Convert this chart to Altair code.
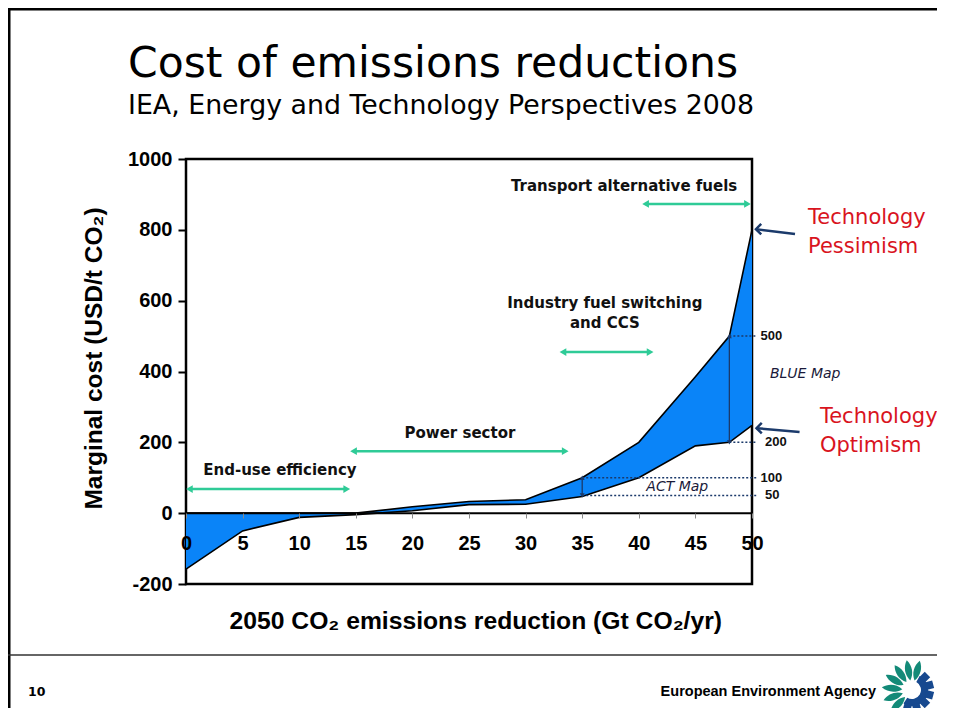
import math
import altair as alt
import pandas as pd

# ---------------- data ----------------
reduction = [0, 5, 10, 15, 20, 25, 30, 35, 40, 45, 48, 50]
optimism = [-158, -50, -12, -4, 7, 24, 25, 47, 100, 190, 200, 248]
pessimism = [0, 0, 0, 0, 18, 33, 38, 100, 200, 385, 500, 800]

x_ticks = [0, 5, 10, 15, 20, 25, 30, 35, 40, 45, 50]
y_ticks = [-200, 0, 200, 400, 600, 800, 1000]

sector_labels = ["Transport alternative fuels", "Industry fuel switching", "and CCS",
                 "Power sector", "End-use efficiency"]
sector_label_x = [38.7, 37.0, 37.0, 24.2, 8.3]
sector_label_y = [924, 593, 537, 226, 121]

sector_from = [40.6, 33.3, 14.8, 0.3]
sector_to = [49.6, 41.0, 33.5, 14.2]
sector_y = [873, 455, 175, 68]

level_values = [500, 200, 100, 50]
level_from = [48, 48, 35, 35]
level_to = [50.4, 50.4, 50.4, 50.4]
level_labels = ["500", "200", "100", "50"]
level_label_x = [50.75, 51.15, 50.75, 51.15]

range_x = [48, 35]
range_lo = [200, 50]
range_hi = [500, 100]

scenario_labels = ["BLUE Map", "ACT Map"]
scenario_x = [54.7, 43.4]
scenario_y = [393, 73]

tech_labels = ["Technology", "Pessimism", "Technology", "Optimism"]
tech_x = [54.95, 54.95, 56.0, 56.0]
tech_y = [833, 751, 271, 189]

pointer_from_x = [53.8, 54.2]
pointer_from_y = [788, 229]
pointer_to_x = [50.35, 50.4]
pointer_to_y = [802, 240]

x_title = "2050 CO₂ emissions reduction (Gt CO₂/yr)"
y_title = "Marginal cost (USD/t CO₂)"

BLUE = "#0A84F8"
GREEN = "#2FCB97"
NAVY = "#1B3A6B"
RED = "#D9141E"
W, H = 566, 425

XS = alt.Scale(domain=[0, 50], nice=False, zero=False)
YS = alt.Scale(domain=[-200, 1000], nice=False, zero=False)

XAXIS = alt.Axis(
    values=x_ticks, offset=-71, domain=False, grid=False, title=None, zindex=1,
    tickColor="#888888", tickSize=5, tickWidth=1,
    labelFont="Liberation Sans", labelFontSize=20, labelFontWeight="bold",
    labelColor="black", labelPadding=15, labelFlush=False, labelOverlap=False,
    labelExpr="datum.value + ''")
YAXIS = alt.Axis(
    values=y_ticks, grid=False, title=y_title, domain=False,
    tickColor="black", tickSize=8, tickWidth=2,
    labelFont="Liberation Sans", labelFontSize=20, labelFontWeight="bold",
    labelColor="black", labelPadding=6, labelFlush=False, labelOverlap=False,
    labelExpr="datum.value + ''",
    titleFont="Liberation Sans", titleFontSize=24.5, titleFontWeight="bold",
    titleColor="black", titleX=-80, titleY=199, titleAngle=270,
    titleAlign="center", titleBaseline="bottom")


def X(f="x"):
    return alt.X(f"{f}:Q", scale=XS, axis=XAXIS)


def Y(f="y"):
    return alt.Y(f"{f}:Q", scale=YS, axis=YAXIS)


curve = pd.DataFrame({"x": reduction, "lo": optimism, "hi": pessimism})

area = alt.Chart(curve).mark_area(color=BLUE, opacity=1).encode(x=X(), y=Y("lo"), y2="hi:Q")
line_lo = alt.Chart(curve).mark_line(color="black", strokeWidth=1.6).encode(x=X(), y=Y("lo"))
line_hi = alt.Chart(curve).mark_line(color="black", strokeWidth=1.6).encode(x=X(), y=Y("hi"))

zero = alt.Chart(pd.DataFrame({"y": [0]})).mark_rule(color="black", strokeWidth=2).encode(y=Y())

# sector arrows
sec = pd.DataFrame({"x1": sector_from, "x2": sector_to, "y": sector_y})
sec_rule = alt.Chart(sec).mark_rule(color=GREEN, strokeWidth=2.5).encode(x=X("x1"), x2="x2", y=Y())
sec_l = alt.Chart(sec).mark_point(shape="triangle-left", filled=True, color=GREEN, size=60, opacity=1).encode(x=X("x1"), y=Y())
sec_r = alt.Chart(sec).mark_point(shape="triangle-right", filled=True, color=GREEN, size=60, opacity=1).encode(x=X("x2"), y=Y())
sec_txt = alt.Chart(pd.DataFrame({"t": sector_labels, "x": sector_label_x, "y": sector_label_y})).mark_text(
    font="DejaVu Sans", fontSize=15, fontWeight="bold", color="#111111", align="center", baseline="middle"
).encode(x=X(), y=Y(), text="t:N")

# level dotted lines
lev = pd.DataFrame({"x1": level_from, "x2": level_to, "y": level_values, "t": level_labels, "lx": level_label_x})
lev_rule = alt.Chart(lev).mark_rule(color=NAVY, strokeWidth=1.5, strokeDash=[2, 2]).encode(x=X("x1"), x2="x2", y=Y())
lev_txt = alt.Chart(lev).mark_text(font="Liberation Sans", fontSize=13, fontWeight="bold", color="#111111",
                                   align="left", baseline="middle").encode(x=X("lx"), y=Y(), text="t:N")

rng = pd.DataFrame({"x": range_x, "lo": range_lo, "hi": range_hi})
rng_rule = alt.Chart(rng).mark_rule(color=NAVY, strokeWidth=1.3).encode(x=X(), y=Y("lo"), y2="hi")
rng_up = alt.Chart(rng).mark_point(shape="triangle-up", filled=True, color=NAVY, size=25, opacity=1).encode(x=X(), y=Y("hi"))
rng_dn = alt.Chart(rng).mark_point(shape="triangle-down", filled=True, color=NAVY, size=25, opacity=1).encode(x=X(), y=Y("lo"))

scen = alt.Chart(pd.DataFrame({"t": scenario_labels, "x": scenario_x, "y": scenario_y})).mark_text(
    font="DejaVu Sans", fontSize=14, fontStyle="italic", color="#1a1a3a", align="center", baseline="middle"
).encode(x=X(), y=Y(), text="t:N")

tech = alt.Chart(pd.DataFrame({"t": tech_labels, "x": tech_x, "y": tech_y})).mark_text(
    font="DejaVu Sans", fontSize=21, color=RED, align="left", baseline="middle"
).encode(x=X(), y=Y(), text="t:N")

ptr = pd.DataFrame({"x1": pointer_from_x, "y1": pointer_from_y, "x2": pointer_to_x, "y2": pointer_to_y})
ptr_rule = alt.Chart(ptr).mark_rule(color=NAVY, strokeWidth=2.5).encode(x=X("x1"), y=Y("y1"), x2="x2", y2="y2")
ptr_head = alt.Chart(ptr).mark_point(shape="M1,-1L0,0L1,1", filled=False, color=NAVY, strokeWidth=2.5,
                                     size=110, opacity=1).encode(x=X("x2"), y=Y("y2"))

xt = alt.Chart(pd.DataFrame({"t": [x_title], "x": [25.6], "y": [-308]})).mark_text(
    font="Liberation Sans", fontSize=24.7, fontWeight="bold", color="black", align="center", baseline="middle"
).encode(x=X(), y=Y(), text="t:N")

# ---------------- slide decoration (pixel positions) ----------------
one = pd.DataFrame({"a": [0]})


def hline(x1, x2, y, w, c="black"):
    return alt.Chart(one).mark_rule(color=c, strokeWidth=w).encode(
        x=alt.value(x1), x2=alt.value(x2), y=alt.value(y))


def vline(x, y1, y2, w, c="black"):
    return alt.Chart(one).mark_rule(color=c, strokeWidth=w).encode(
        x=alt.value(x), y=alt.value(y1), y2=alt.value(y2))


def label(t, x, y, size, font, weight="normal", align="left", color="black"):
    return alt.Chart(one).mark_text(text=t, font=font, fontSize=size, fontWeight=weight,
                                    align=align, baseline="alphabetic", color=color).encode(
        x=alt.value(x), y=alt.value(y))


deco = [
    vline(-177, -152, 560, 3),
    hline(-178, 760, -150, 3),
    hline(-178, 760, 496, 1.5, "#333333"),
    label("Cost of emissions reductions", -58, -82, 42.5, "DejaVu Sans"),
    label("IEA, Energy and Technology Perspectives 2008", -58, -45, 26.8, "DejaVu Sans"),
    label("10", -158, 537, 12.5, "DejaVu Sans", "bold"),
    label("European Environment Agency", 690, 537, 14.5, "Liberation Sans", "bold", "right"),
]

# logo
cx, cy = 726, 531
petal_angles = [75, 100, 125, 150, 175, 200, 225]
petals = []
for a in petal_angles:
    r = math.radians(a)
    petals.append(alt.Chart(one).mark_point(
        shape="M0,-1C0.45,-0.4 0.45,0.4 0,1C-0.45,0.4 -0.45,-0.4 0,-1Z", filled=True,
        color="#138A78", size=420, opacity=1, angle=(90 - a) % 360).encode(
        x=alt.value(cx + 20 * math.cos(r)), y=alt.value(cy - 20 * math.sin(r))))
ring = alt.Chart(one).mark_arc(color="#17498F", radius=16, radius2=9, theta=0.5, theta2=3.7).encode(
    x=alt.value(cx), y=alt.value(cy))
teeth = []
for a in [45, 15, -15, -45, -75, -105]:
    r = math.radians(a)
    teeth.append(alt.Chart(one).mark_point(shape="square", filled=True, color="#17498F", size=60,
                                           opacity=1, angle=(90 - a) % 360).encode(
        x=alt.value(cx + 18 * math.cos(r)), y=alt.value(cy - 18 * math.sin(r))))

chart = alt.layer(
    area, line_lo, line_hi, zero, sec_rule, sec_l, sec_r, sec_txt, lev_rule, lev_txt,
    rng_rule, rng_up, rng_dn, scen, tech, ptr_rule, ptr_head, xt, *deco, *petals, ring, *teeth
).properties(
    width=W, height=H, autosize="none",
    padding={"left": 178, "top": 151, "right": 185, "bottom": 124},
    background="white",
).configure_view(stroke="black", strokeWidth=2.5)

chart.save("out.html", embed_options={"renderer": "svg", "actions": False})
